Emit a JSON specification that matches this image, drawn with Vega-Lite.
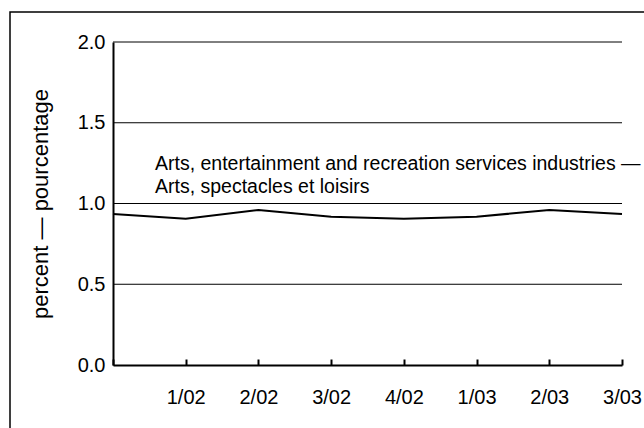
{
  "$schema": "https://vega.github.io/schema/vega-lite/v6.json",
  "autosize": {"type": "none"},
  "padding": {"left": 10, "top": 12, "right": 0, "bottom": 0},
  "width": 640,
  "height": 420,
  "config": {
    "font": "Liberation Sans",
    "view": {"stroke": "#000", "strokeWidth": 1.5},
    "axis": {"labelFont": "Liberation Sans", "titleFont": "Liberation Sans", "labelColor": "#000", "titleColor": "#000", "domainColor": "#000", "tickColor": "#000"}
  },
  "datasets": {
    "series": [
      {"quarter": "4/01", "percent": 0.935},
      {"quarter": "1/02", "percent": 0.906},
      {"quarter": "2/02", "percent": 0.96},
      {"quarter": "3/02", "percent": 0.918},
      {"quarter": "4/02", "percent": 0.906},
      {"quarter": "1/03", "percent": 0.918},
      {"quarter": "2/03", "percent": 0.96},
      {"quarter": "3/03", "percent": 0.935}
    ],
    "grid": [
      {"percent": 0.5, "quarter": "4/01", "end": "3/03"},
      {"percent": 1.0, "quarter": "4/01", "end": "3/03"},
      {"percent": 1.5, "quarter": "4/01", "end": "3/03"},
      {"percent": 2.0, "quarter": "4/01", "end": "3/03"}
    ],
    "note": [
      {"quarter": "4/01", "percent": 1.0, "label": "Arts, entertainment and recreation services industries —\nArts, spectacles et loisirs"}
    ]
  },
  "encoding": {
    "x": {
      "field": "quarter", "type": "ordinal",
      "scale": {"type": "point", "padding": 0, "range": [103, 612], "domain": ["4/01","1/02","2/02","3/02","4/02","1/03","2/03","3/03"]},
      "axis": {
        "title": null, "labelAngle": 0, "labelFontSize": 20, "labelPadding": 28,
        "tickSize": -6, "tickWidth": 2, "domainWidth": 2, "grid": false,
        "offset": -67,
        "labelExpr": "datum.value == '4/01' ? '' : datum.value"
      }
    },
    "y": {
      "field": "percent", "type": "quantitative",
      "scale": {"domain": [0, 2], "range": [353, 30]},
      "axis": {
        "title": "percent — pourcentage", "titleFontSize": 22, "titleFontWeight": "normal",
        "values": [0, 0.5, 1, 1.5, 2], "format": ".1f",
        "labelFontSize": 20, "labelPadding": 8, "ticks": false, "tickSize": 0,
        "domainWidth": 2, "grid": false, "offset": -103, "titlePadding": 25
      }
    }
  },
  "layer": [
    {
      "data": {"name": "grid"},
      "mark": {"type": "rule", "color": "#000", "strokeWidth": 1},
      "encoding": {"x2": {"field": "end"}}
    },
    {
      "data": {"name": "series"},
      "mark": {"type": "line", "color": "#000", "strokeWidth": 2}
    },
    {
      "data": {"name": "note"},
      "mark": {
        "type": "text", "align": "left", "baseline": "bottom", "fontSize": 19.5,
        "lineHeight": 23, "dx": 42, "dy": -30, "color": "#000", "lineBreak": "\n"
      },
      "encoding": {
        "text": {"field": "label"}
      }
    }
  ]
}
